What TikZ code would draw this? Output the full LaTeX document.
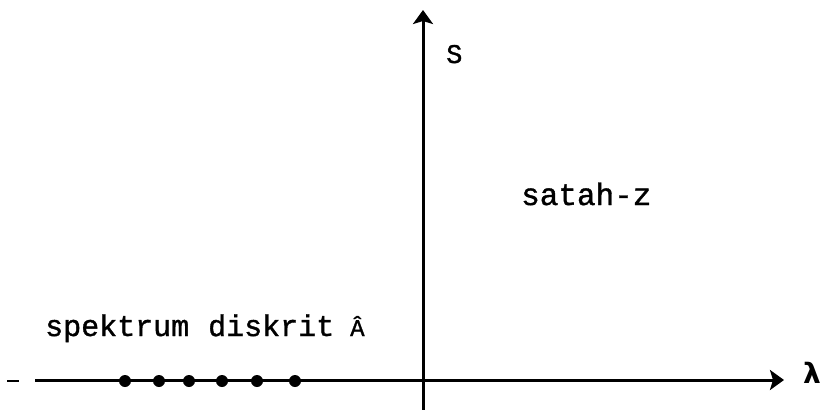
\documentclass[tikz,border=0pt]{standalone}
\usepackage{amsmath,amssymb}
\usepackage{fontspec}
\usepackage{tikz}
\usetikzlibrary{arrows.meta, positioning, calc}
\newfontfamily\typewriter[FakeBold=1.2]{Liberation Mono}
\newfontfamily\greek{DejaVu Sans}
\tikzstyle{typed} = [inner sep=0pt, anchor=base west, font=\typewriter\fontsize{30}{30}\selectfont]
\tikzstyle{eigen} = [circle, fill=black, inner sep=0pt, minimum size=12pt]
\tikzstyle{axis} = [line width=3pt, -{Stealth[length=14pt,width=20pt,inset=3pt]}]

\begin{document}
\begin{tikzpicture}[x=1pt, y=-1pt]
  \useasboundingbox (0,0) rectangle (823,410);
  \coordinate (origin) at (423,380);
  \coordinate (sbottom) at (423,410);
  \coordinate (stop) at (423,10);
  \coordinate (lleft) at (35,380);
  \coordinate (lright) at (784,380);
  \coordinate (tickA) at (7,381);
  \coordinate (tickB) at (19,381);

  \draw[axis] (sbottom) -- (stop);
  \draw[axis] (lleft) -- (lright);
  \draw[line width=2pt] (tickA) -- (tickB);

  \node (lambda) at (812,373) {\greek\bfseries\fontsize{28}{28}\selectfont λ};
  \node (s) [typed, font=\typewriter\fontsize{27}{27}\selectfont] at (446,63) {S};
  \node (plane) [typed, font=\typewriter\fontsize{31}{31}\selectfont] at (521,205) {satah-z};
  \node (spectrum) [typed] at (45,336) {spektrum};
  \node (discrete) [typed] at (208,336) {diskrit};
  \node (ahat) [typed, font=\typewriter\fontsize{24}{24}\selectfont] at (350,336) {Â};

  % eigenvalues
  \foreach \x [count=\i] in {125,159,189,222,257,295}
    \node (e\i) [eigen] at (\x,381) {};
\end{tikzpicture}
\end{document}
